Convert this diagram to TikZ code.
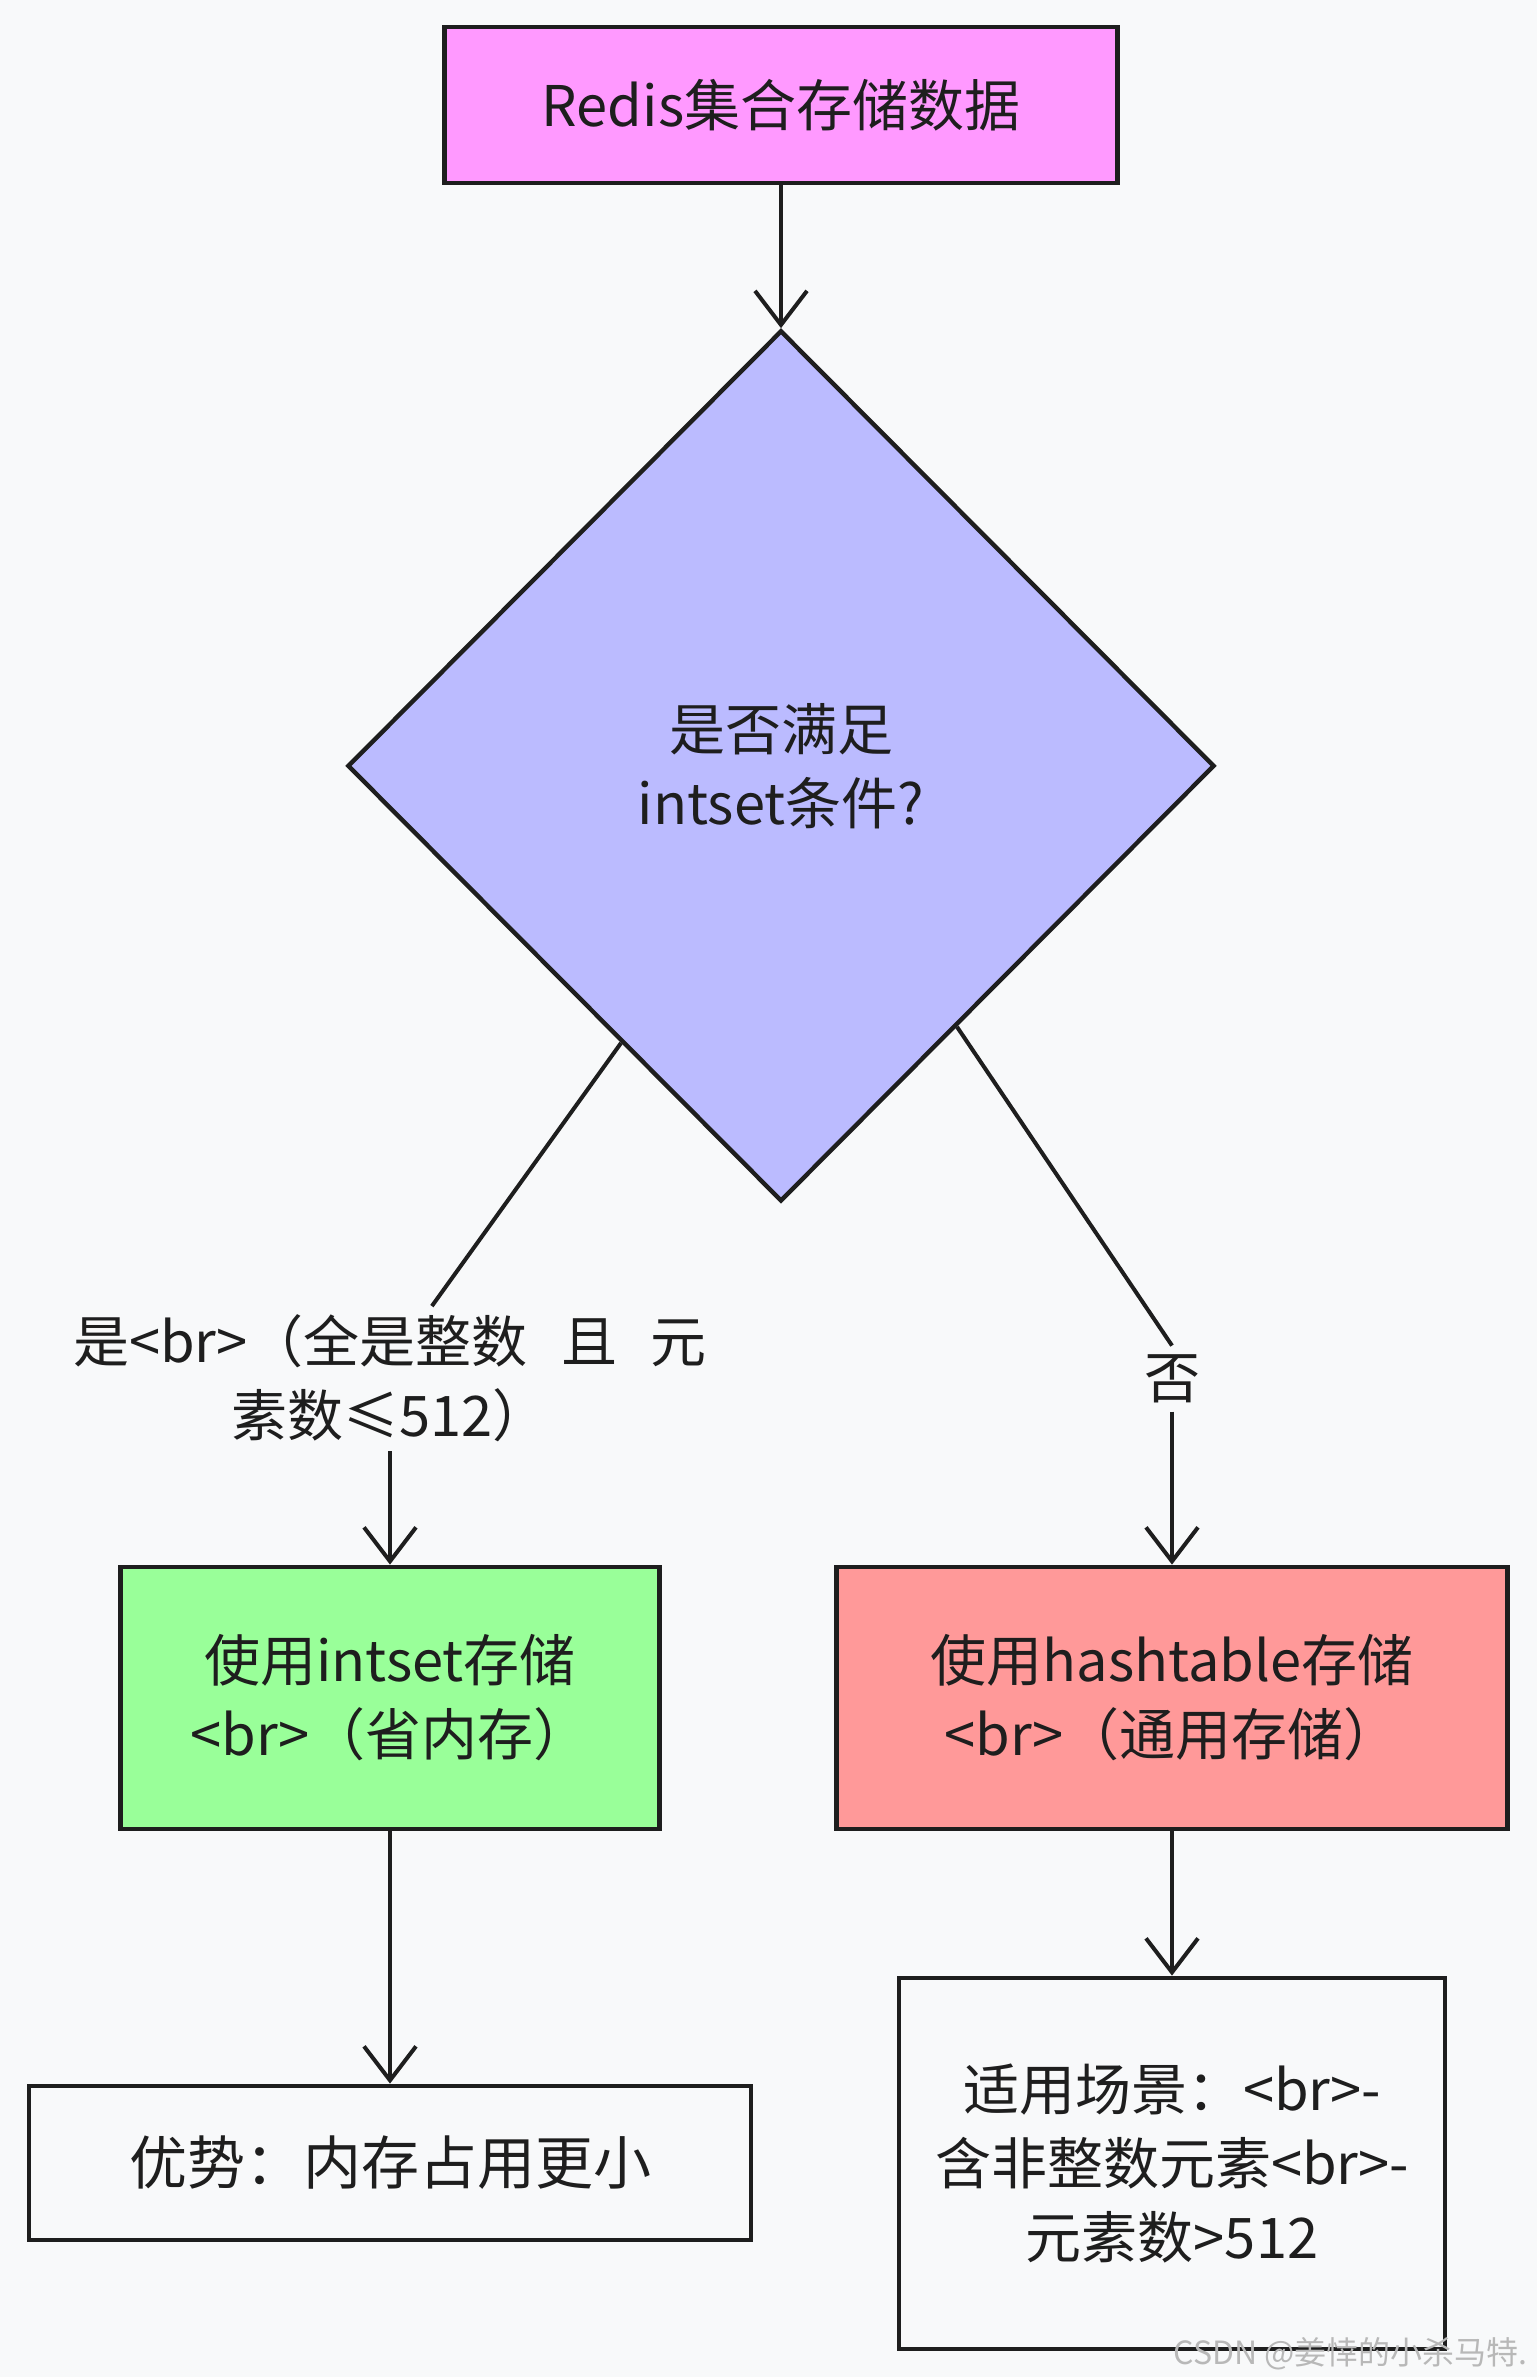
\documentclass[tikz,border=0pt]{standalone}
\usepackage{fontspec}
\newfontfamily\cjk{Noto Sans CJK SC}
\usetikzlibrary{positioning, calc}
\usetikzlibrary{shapes.geometric, arrows.meta}

\begin{document}
\begin{tikzpicture}[font=\cjk\fontsize{28}{37}\selectfont, align=center, >={Straight Barb[length=17pt,width=26pt]}, line width=2.2pt]
        % Define colors
        \definecolor{bgcol}{HTML}{F8F9FA}
        \definecolor{inkcol}{HTML}{1E1E1E}
        \definecolor{pinkfill}{HTML}{FF99FF}
        \definecolor{violetfill}{HTML}{BBBBFF}
        \definecolor{greenfill}{HTML}{99FF99}
        \definecolor{redfill}{HTML}{FF9999}

        % Canvas
        \fill[bgcol] (0,0) rectangle (768.5pt,-1188.5pt);
        \useasboundingbox (0,0) rectangle (768.5pt,-1188.5pt);

        % Nodes
        \node[draw=inkcol, fill=pinkfill, text=inkcol, minimum width=336.5pt, minimum height=78pt] (store) at (390.5pt,-52.5pt) {Redis集合存储数据};
        \node[draw=inkcol, fill=violetfill, text=inkcol, diamond, inner sep=0pt, minimum width=433.5pt, minimum height=435.5pt, below=71.5pt of store] (check) {是否满足\\intset条件?};

        \node[draw=inkcol, fill=greenfill, text=inkcol, below=180.5pt of check, xshift=-195.5pt, minimum width=269.5pt, minimum height=131pt] (useint) {使用intset存储\\<br>（省内存）};
        \node[draw=inkcol, fill=redfill, text=inkcol, below=180.5pt of check, xshift=195.5pt, minimum width=335.5pt, minimum height=131pt] (usehash) {使用hashtable存储\\<br>（通用存储）};

        \node[draw=inkcol, fill=bgcol, text=inkcol, below=126.3pt of useint, minimum width=361pt, minimum height=77pt, font=\cjk\fontsize{29}{37}\selectfont] (intgood) {优势：内存占用更小};
        \node[draw=inkcol, fill=bgcol, text=inkcol, below=72.3pt of usehash, minimum width=273pt, minimum height=185.5pt] (hashuse) {适用场景：<br>-\\含非整数元素<br>-\\元素数>512};

        % Edge labels
        \node[text=inkcol] (yeslbl) at ($(useint.north)+(0,93pt)$) {是<br>（全是整数\hspace{0.6em}且\hspace{0.6em}元\\素数≤512）};
        \node[text=inkcol] (nolbl) at ($(usehash.north)+(0,93pt)$) {否};

        % Edges
        \draw[->, inkcol, line width=2pt] (store) -- (check);
        \draw[inkcol, line width=2pt] (check.-120) -- (yeslbl.60);
        \draw[->, inkcol, line width=2pt] (yeslbl) -- (useint);
        \draw[inkcol, line width=2pt] (check.-56) -- (nolbl.north);
        \draw[->, inkcol, line width=2pt] (nolbl) -- (usehash);
        \draw[->, inkcol, line width=2pt] (useint) -- (intgood);
        \draw[->, inkcol, line width=2pt] (usehash) -- (hashuse);

        % Watermark
        \node[anchor=south east, text=black!28, font=\cjk\fontsize{16}{18}\selectfont, inner sep=1pt] (mark) at (766pt,-1187pt) {CSDN @姜悻的小杀马特.};
    \end{tikzpicture}
\end{document}
